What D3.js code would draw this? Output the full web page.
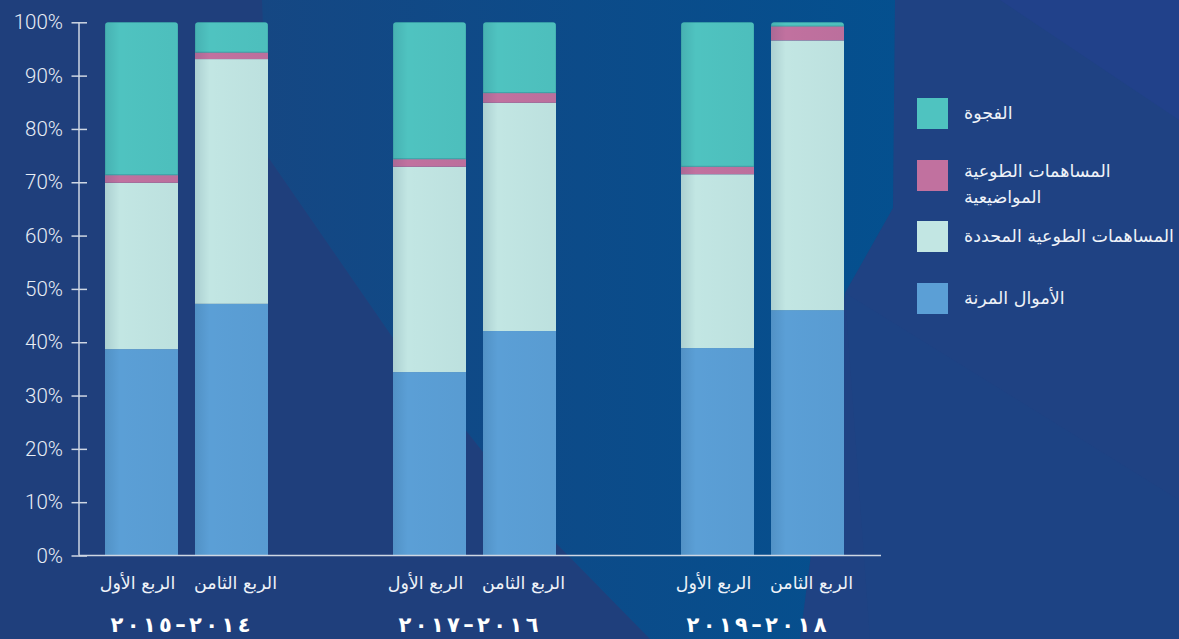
<!DOCTYPE html>
<html lang="ar">
<head>
<meta charset="utf-8">
<script src="https://cdn.jsdelivr.net/npm/d3@7"></script>
<style>
  html, body { margin: 0; padding: 0; background: #1f3f7e; }
  svg { display: block; }
</style>
</head>
<body>
<svg id="chart" width="1179" height="639"></svg>
<script>
// Funding periods (x groups) and the two quarters shown for each
const periods = ["٢٠١٤–٢٠١٥", "٢٠١٦–٢٠١٧", "٢٠١٨–٢٠١٩"];
const quarters = ["الربع الأول", "الربع الثامن"];

// Share of the budget (%) per bar, in order: period 1 Q1, period 1 Q8, period 2 Q1, ...
const flexibleFunds = [38.7, 47.2, 34.4, 42.1, 38.9, 46.0];
const earmarkedContributions = [31.2, 45.9, 38.5, 42.8, 32.6, 50.6];
const thematicContributions = [1.5, 1.3, 1.5, 1.9, 1.5, 2.7];
const fundingGap = [28.6, 5.6, 25.6, 13.2, 27.0, 0.7];

const seriesKeys = ["flexible", "earmarked", "thematic", "gap"];
const seriesLabels = {
  flexible: ["الأموال المرنة"],
  earmarked: ["المساهمات الطوعية المحددة"],
  thematic: ["المساهمات الطوعية", "المواضيعية"],
  gap: ["الفجوة"]
};
const seriesColors = {
  flexible: "#5b9fd6",
  earmarked: "#c2e6e3",
  thematic: "#c1719f",
  gap: "#4fc3c0"
};
const yTicks = [0, 10, 20, 30, 40, 50, 60, 70, 80, 90, 100];

const rows = flexibleFunds.map((v, i) => ({
  period: periods[Math.floor(i / 2)],
  quarter: quarters[i % 2],
  flexible: v,
  earmarked: earmarkedContributions[i],
  thematic: thematicContributions[i],
  gap: fundingGap[i]
}));

const svg = d3.select("#chart");
const W = 1179, H = 639;
const defs = svg.append("defs");

// ---- background facets ----
const bgGrad = defs.append("linearGradient").attr("id", "bgLight")
  .attr("gradientUnits", "userSpaceOnUse")
  .attr("x1", 260).attr("y1", 0).attr("x2", 900).attr("y2", 0);
bgGrad.append("stop").attr("offset", 0).attr("stop-color", "#154783");
bgGrad.append("stop").attr("offset", 0.5).attr("stop-color", "#0c4b89");
bgGrad.append("stop").attr("offset", 1).attr("stop-color", "#04508f");

svg.append("rect").attr("width", W).attr("height", H).attr("fill", "#1f3f7c");

const poly = d3.line();
const facets = [
  { pts: [[880, 0], [1179, 0], [1179, 639], [800, 639], [845, 293], [893, 208], [895, 0]], fill: "#1f4283" },
  { pts: [[1000, 0], [1179, 0], [1179, 120]], fill: "#21418a" },
  { pts: [[845, 293], [1179, 500], [1179, 639], [870, 639]], fill: "#1d4585", opacity: 0.6 },
  { pts: [[262, 0], [895, 0], [893, 208], [845, 293], [800, 639], [650, 639], [550, 537], [393, 338], [268, 157]], fill: "url(#bgLight)" }
];
svg.append("g").selectAll("path").data(facets).join("path")
  .attr("d", d => poly(d.pts) + "Z")
  .attr("fill", d => d.fill)
  .attr("opacity", d => d.opacity || 1);

// ---- scales ----
const y = d3.scaleLinear().domain([0, 100]).range([555.5, 22.3]);
const xGroup = d3.scaleBand().domain(periods).range([42.5, 906.5]);
const xQuarter = d3.scaleBand().domain(quarters).range([62.5, 225.5]).paddingInner(17 / 90).paddingOuter(0);

// ---- stacked bars ----
const stacked = d3.stack().keys(seriesKeys)(rows);

// soft shading along the left edge of each bar
const shade = defs.append("linearGradient").attr("id", "barShade")
  .attr("x1", 0).attr("x2", 1).attr("y1", 0).attr("y2", 0);
shade.append("stop").attr("offset", 0).attr("stop-color", "#0a2c4a").attr("stop-opacity", 0.12);
shade.append("stop").attr("offset", 0.2).attr("stop-color", "#0a2c4a").attr("stop-opacity", 0);
shade.append("stop").attr("offset", 1).attr("stop-color", "#0a2c4a").attr("stop-opacity", 0.03);

const barX = d => xGroup(d.period) + xQuarter(d.quarter);
const bw = xQuarter.bandwidth();

rows.forEach((r, i) => {
  defs.append("clipPath").attr("id", "bar-clip-" + i)
    .append("rect")
    .attr("x", barX(r)).attr("y", y(100))
    .attr("width", bw).attr("height", y(0) - y(100) + 6)
    .attr("rx", 3.5).attr("ry", 3.5);
});

const barGroups = svg.append("g").selectAll("g.bar").data(rows).join("g")
  .attr("class", "bar")
  .attr("clip-path", (d, i) => `url(#bar-clip-${i})`);

barGroups.each(function (r, i) {
  const g = d3.select(this);
  stacked.forEach(layer => {
    const seg = layer[i];
    g.append("rect")
      .attr("x", barX(r))
      .attr("y", y(seg[1]))
      .attr("width", bw)
      .attr("height", y(seg[0]) - y(seg[1]))
      .attr("fill", seriesColors[layer.key])
      .attr("stroke", layer.key === "gap" ? "#3ea9aa" : "none")
      .attr("stroke-width", 1);
  });
  g.append("rect")
    .attr("x", barX(r)).attr("y", y(100))
    .attr("width", bw).attr("height", y(0) - y(100))
    .attr("fill", "url(#barShade)");
});

// ---- y axis ----
const axisColor = "#cfd7e3";
const yAxis = svg.append("g").attr("transform", "translate(79,0)")
  .call(d3.axisLeft(y).tickValues(yTicks).tickFormat(d => d + "%").tickSize(0).tickPadding(16));
yAxis.select(".domain").remove();
yAxis.selectAll(".tick line")
  .attr("x1", -7.5).attr("x2", 8).attr("stroke", axisColor).attr("stroke-width", 1.5);
yAxis.selectAll(".tick text")
  .attr("fill", "#e8edf5")
  .style("font-family", "Roboto, 'Open Sans', sans-serif")
  .style("font-size", "20.5px")
  .style("font-weight", 300);
yAxis.append("line")
  .attr("x1", 0).attr("x2", 0).attr("y1", y(100)).attr("y2", y(0))
  .attr("stroke", axisColor).attr("stroke-width", 1.5);

// ---- x axis ----
svg.append("line")
  .attr("x1", 79).attr("x2", 881).attr("y1", y(0)).attr("y2", y(0))
  .attr("stroke", axisColor).attr("stroke-width", 1.5);

const arabicFont = "'DejaVu Sans', 'Noto Sans', sans-serif";

// quarter labels sit slightly outward from the bar centres
svg.append("g").selectAll("text").data(rows).join("text")
  .attr("x", d => barX(d) + bw / 2 + (d.quarter === quarters[0] ? -4 : 4))
  .attr("y", 589)
  .attr("text-anchor", "middle")
  .attr("fill", "#eef2f8")
  .style("font-family", arabicFont)
  .style("font-size", "17.5px")
  .text(d => d.quarter);

// period labels, spread out with textLength
svg.append("g").selectAll("text").data(periods).join("text")
  .attr("x", d => xGroup(d) + xQuarter.range()[0] + (xQuarter.range()[1] - xQuarter.range()[0]) / 2 - 76)
  .attr("y", 632)
  .attr("direction", "rtl")
  .attr("unicode-bidi", "embed")
  .attr("text-anchor", "end")
  .attr("textLength", 140)
  .attr("lengthAdjust", "spacing")
  .attr("fill", "#ffffff")
  .style("font-family", arabicFont)
  .style("font-size", "21px")
  .style("font-weight", "bold")
  .text(d => d);

// ---- legend ----
const legendOrder = ["gap", "thematic", "earmarked", "flexible"];
const legendY = [98, 160, 221, 283];
const legend = svg.append("g").selectAll("g").data(legendOrder).join("g")
  .attr("transform", (d, i) => `translate(917,${legendY[i]})`);
legend.append("rect")
  .attr("width", 31).attr("height", 31)
  .attr("fill", d => seriesColors[d]);
legend.each(function (key) {
  const lines = seriesLabels[key];
  const t = d3.select(this).append("text")
    .attr("fill", "#eef2f8")
    .style("font-family", arabicFont)
    .style("font-size", "17.5px");
  lines.forEach((ln, j) => {
    t.append("tspan")
      .attr("x", 47)
      .attr("y", (lines.length > 1 ? 17 : 21) + j * 26)
      .text(ln);
  });
});
</script>
</body>
</html>
